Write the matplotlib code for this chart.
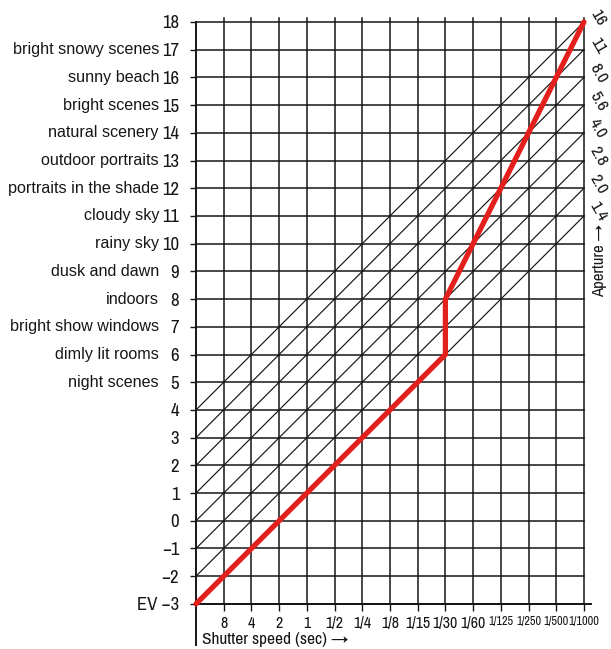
import matplotlib
matplotlib.use("Agg")
import matplotlib.pyplot as plt
from matplotlib import font_manager
from matplotlib.font_manager import FontProperties

# ---- data ----
ev_values = list(range(-3, 19))
ev_labels = ["EV −3"] + [f"{v:d}".replace("-", "−") for v in range(-2, 19)]
shutter_labels = ["8", "4", "2", "1", "1/2", "1/4", "1/8", "1/15", "1/30",
                  "1/60", "1/125", "1/250", "1/500", "1/1000"]
scene_ev = [17, 16, 15, 14, 13, 12, 11, 10, 9, 8, 7, 6, 5]
scene_labels = ["bright snowy scenes", "sunny beach", "bright scenes",
                "natural scenery", "outdoor portraits", "portraits in the shade",
                "cloudy sky", "rainy sky", "dusk and dawn", "indoors",
                "bright show windows", "dimly lit rooms", "night scenes"]
aperture_labels = ["1.4", "2.0", "2.8", "4.0", "5.6", "8.0", "11", "16"]
aperture_ev_at_start = [-3, -2, -1, 0, 1, 2, 3, 4]   # EV where each aperture line meets the EV axis
program_shutter_idx = [0, 9, 9, 14]
program_ev = [-3, 6, 8, 18]

# ---- fonts ----
def find_narrow():
    cands = []
    for f in font_manager.fontManager.ttflist:
        n = f.name.lower()
        fn = f.fname.lower()
        if f.style != "normal" or f.weight not in (400, "normal", "regular"):
            continue
        if "narrow" in n or "narrow" in fn:
            cands.append((0, f.fname))
        elif "condensed" in n or "condensed" in fn or f.stretch == "condensed":
            if "bold" in fn or "oblique" in fn or "italic" in fn:
                continue
            pri = 1 if "sans" in fn else 2
            if "mono" in fn or "serif" in fn and "sans" not in fn:
                pri = 3
            cands.append((pri, f.fname))
    cands.sort()
    return cands[0][1] if cands else None

narrow_path = find_narrow()

def NP(size):
    if narrow_path:
        return FontProperties(fname=narrow_path, size=size)
    return FontProperties(family=["Liberation Sans", "DejaVu Sans"], size=size * 0.85)

REG = ["Liberation Sans", "DejaVu Sans"]

W, H = 611, 649
fig = plt.figure(figsize=(W / 100, H / 100), dpi=100)
px = 27.71
x0_px, ev18_px = 196, 22
xmin, xmax = 0, 14.25
ymin, ymax = -4.5, 18.0
left = x0_px / W
width = (xmax - xmin) * px / W
bottom_px = ev18_px + (ymax - ymin) * px
ax = fig.add_axes([left, 1 - bottom_px / H, width, (ymax - ymin) * px / H])
ax.set_xlim(xmin, xmax)
ax.set_ylim(ymin, ymax)

ink = "#161616"
nx = len(shutter_labels)

# grid
for v in ev_values:
    ax.plot([0, nx], [v, v], color=ink, lw=1.1, clip_on=False, zorder=2)
for i in range(1, nx + 1):
    ax.plot([i, i], [-3, 18.15], color=ink, lw=1.1, clip_on=False, zorder=2)

# aperture diagonals
for c in aperture_ev_at_start:
    ax.plot([0, nx], [c, c + nx], color=ink, lw=0.85, clip_on=False, zorder=2)

# program line
ax.plot(program_shutter_idx, program_ev, color="#e3201b", lw=3.8,
        solid_joinstyle="round", solid_capstyle="round", zorder=3, clip_on=False)

# aperture labels
for lab, c in zip(aperture_labels, aperture_ev_at_start):
    ax.text(nx + 0.5, c + nx + 0.15, lab, rotation=-60, ha="center", va="center",
            fontproperties=NP(12.5), color=ink, clip_on=False,
            rotation_mode="anchor")
ax.text(nx + 0.55, 9.4, "Aperture →", rotation=90, ha="center", va="center",
        fontproperties=NP(12), color=ink, clip_on=False)

# spines
for s in ("top", "right"):
    ax.spines[s].set_visible(False)
ax.spines["left"].set_position(("data", 0))
ax.spines["bottom"].set_position(("data", -3))
for s in ("left", "bottom"):
    ax.spines[s].set_linewidth(1.4)
    ax.spines[s].set_color(ink)

ax.set_yticks(ev_values)
ax.set_yticklabels(ev_labels, color=ink)
for lbl in ax.get_yticklabels():
    lbl.set_fontproperties(NP(13.5))
ax.tick_params(axis="y", direction="out", length=4, width=1, pad=8, color=ink)

ax.set_xticks(range(1, nx + 1))
ax.set_xticklabels(shutter_labels, color=ink)
for k, lbl in enumerate(ax.get_xticklabels()):
    lbl.set_fontproperties(NP(11.5 if k < 10 else 8.8))
ax.tick_params(axis="x", direction="out", length=5, width=1, pad=4, color=ink)

# scene labels
for v, lab in zip(scene_ev, scene_labels):
    ax.annotate(lab, xy=(0, v), xytext=(-37, 0), textcoords="offset pixels",
                ha="right", va="center", fontsize=11.6, family=REG, color=ink,
                annotation_clip=False)

ax.set_xlabel("Shutter speed (sec) →", fontproperties=NP(12.5), color=ink,
              va="center", ha="center")
ax.xaxis.set_label_coords((275 - x0_px) / px / (xmax - xmin), (-4.3 - ymin) / (ymax - ymin))

fig.savefig("out.png", dpi=100)
